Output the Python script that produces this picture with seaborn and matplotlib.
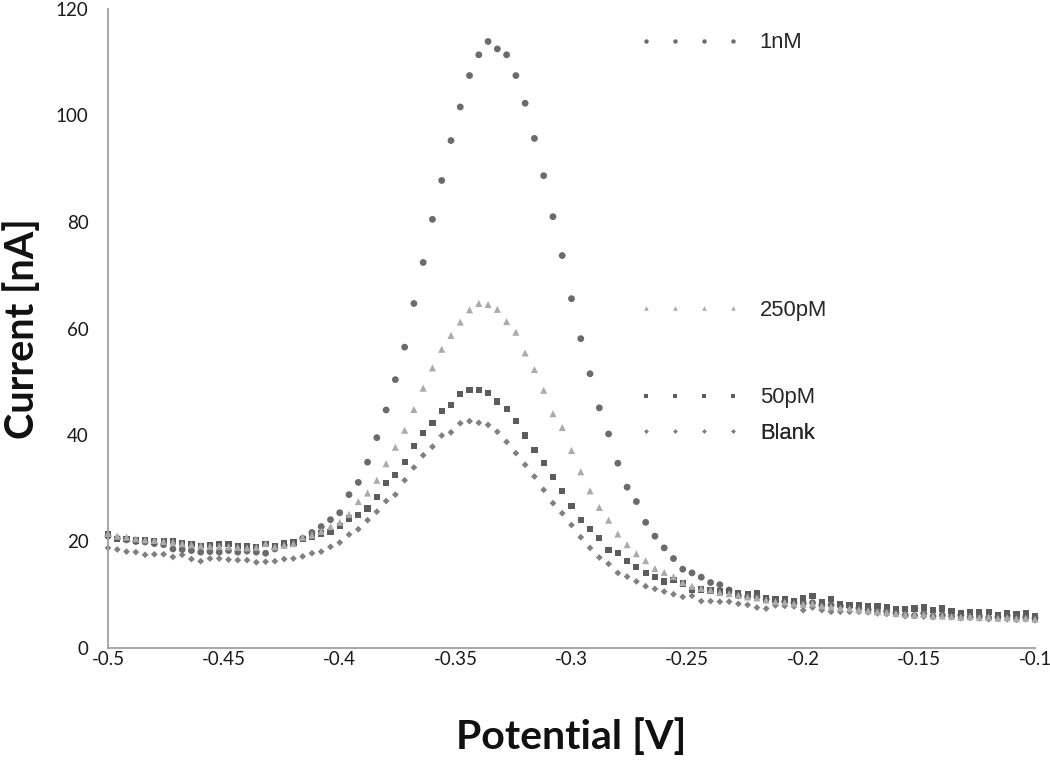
import matplotlib
matplotlib.use("Agg")
import matplotlib.pyplot as plt
from matplotlib.lines import Line2D
import seaborn as sns
import pandas as pd

# ----------------------------------------------------------------------
# Data (potential in V, current in nA)
# ----------------------------------------------------------------------
POTENTIAL = [
    -0.500, -0.496, -0.492, -0.488, -0.484, -0.480, -0.476, -0.472, -0.468, -0.464,
    -0.460, -0.456, -0.452, -0.448, -0.444, -0.440, -0.436, -0.432, -0.428, -0.424,
    -0.420, -0.416, -0.412, -0.408, -0.404, -0.400, -0.396, -0.392, -0.388, -0.384,
    -0.380, -0.376, -0.372, -0.368, -0.364, -0.360, -0.356, -0.352, -0.348, -0.344,
    -0.340, -0.336, -0.332, -0.328, -0.324, -0.320, -0.316, -0.312, -0.308, -0.304,
    -0.300, -0.296, -0.292, -0.288, -0.284, -0.280, -0.276, -0.272, -0.268, -0.264,
    -0.260, -0.256, -0.252, -0.248, -0.244, -0.240, -0.236, -0.232, -0.228, -0.224,
    -0.220, -0.216, -0.212, -0.208, -0.204, -0.200, -0.196, -0.192, -0.188, -0.184,
    -0.180, -0.176, -0.172, -0.168, -0.164, -0.160, -0.156, -0.152, -0.148, -0.144,
    -0.140, -0.136, -0.132, -0.128, -0.124, -0.120, -0.116, -0.112, -0.108, -0.104,
    -0.100,
]

CURRENT_1NM = [
    21.0, 20.6, 20.3, 20.0, 19.9, 19.6, 19.4, 18.6, 18.5, 18.3,
    18.0, 18.1, 18.0, 18.3, 18.0, 18.2, 18.0, 17.8, 18.6, 19.3,
    19.8, 20.6, 21.7, 22.8, 24.1, 25.4, 28.8, 31.1, 34.9, 39.5,
    44.7, 50.4, 56.5, 64.7, 72.4, 80.5, 87.8, 95.3, 101.6, 107.5,
    111.4, 113.9, 112.5, 111.4, 107.5, 102.3, 95.7, 88.7, 81.0, 73.7,
    65.6, 58.1, 51.5, 45.1, 40.2, 34.7, 30.2, 27.5, 23.6, 21.0,
    18.8, 16.8, 14.8, 14.1, 13.3, 12.3, 11.9, 10.9, 9.8, 9.6,
    9.6, 9.2, 8.8, 8.7, 8.5, 8.4, 8.5, 8.0, 8.1, 7.9,
    7.8, 7.5, 7.2, 7.0, 6.9, 6.6, 6.2, 6.1, 6.5, 6.0,
    6.2, 6.0, 6.2, 5.8, 6.0, 5.7, 5.9, 6.1, 5.6, 5.8,
    5.6,
]

CURRENT_250PM = [
    21.5, 21.0, 20.8, 20.5, 20.3, 20.2, 20.0, 19.9, 19.6, 19.4,
    19.2, 19.1, 19.1, 19.0, 18.9, 18.8, 18.9, 19.6, 19.0, 19.3,
    19.6, 20.8, 21.2, 21.9, 22.8, 23.6, 25.1, 27.5, 29.1, 31.5,
    34.6, 37.7, 40.9, 44.8, 48.8, 52.6, 56.1, 58.7, 61.2, 63.5,
    64.7, 64.5, 63.6, 61.3, 59.3, 55.4, 52.3, 48.4, 44.0, 41.4,
    37.1, 33.1, 29.5, 26.4, 24.0, 21.4, 19.4, 17.7, 16.4, 14.9,
    14.2, 13.4, 12.3, 11.6, 11.2, 10.9, 10.4, 10.2, 9.9, 9.6,
    9.4, 9.0, 8.7, 8.6, 8.3, 8.2, 8.3, 7.9, 7.7, 7.5,
    7.4, 7.2, 7.0, 6.8, 6.7, 6.5, 6.3, 6.2, 6.3, 6.0,
    6.0, 5.9, 5.8, 5.9, 5.7, 5.8, 5.6, 5.7, 5.5, 5.6,
    5.4,
]

CURRENT_50PM = [
    21.3, 20.4, 20.4, 20.2, 20.2, 20.0, 20.0, 20.0, 19.7, 19.5,
    19.2, 19.4, 19.6, 19.5, 19.2, 19.2, 19.0, 19.5, 19.2, 19.7,
    19.8, 20.4, 20.9, 21.5, 21.8, 22.9, 24.3, 25.0, 26.2, 28.4,
    31.0, 32.5, 35.0, 37.9, 40.4, 42.2, 44.5, 45.6, 47.7, 48.4,
    48.4, 47.9, 46.3, 44.9, 42.6, 39.9, 37.2, 34.7, 32.1, 29.5,
    26.6, 24.1, 22.3, 20.7, 18.4, 17.8, 16.3, 15.2, 14.1, 13.4,
    12.5, 12.7, 12.1, 10.9, 11.0, 10.8, 10.6, 10.7, 10.3, 10.1,
    10.4, 9.3, 9.1, 9.1, 8.9, 9.3, 9.8, 8.7, 9.2, 8.3,
    8.1, 8.1, 7.8, 7.9, 7.7, 7.3, 7.3, 7.4, 7.6, 7.1,
    7.4, 6.9, 6.6, 6.8, 6.8, 6.8, 6.2, 6.5, 6.4, 6.5,
    5.9,
]

CURRENT_BLANK = [
    18.8, 18.5, 18.1, 18.0, 17.5, 17.6, 17.6, 17.1, 17.5, 16.7,
    16.3, 16.8, 16.8, 16.6, 16.5, 16.5, 16.1, 16.2, 16.3, 16.7,
    16.8, 17.2, 17.8, 18.1, 19.0, 19.8, 21.3, 22.3, 24.0, 25.6,
    27.6, 28.8, 31.5, 33.9, 36.2, 37.8, 39.9, 40.5, 42.2, 42.6,
    42.3, 41.9, 40.6, 38.7, 36.6, 34.4, 32.2, 29.7, 27.2, 25.3,
    23.1, 20.8, 18.8, 17.0, 15.8, 14.1, 13.4, 12.5, 11.6, 11.1,
    10.6, 10.1, 9.6, 9.8, 8.8, 8.8, 8.7, 8.7, 8.3, 8.1,
    7.6, 7.4, 8.0, 7.9, 7.8, 7.1, 7.6, 7.1, 6.8, 6.8,
    6.8, 6.8, 6.7, 6.5, 6.4, 6.3, 6.0, 6.1, 5.9, 5.8,
    6.0, 5.8, 5.6, 5.7, 5.6, 5.4, 5.5, 5.4, 5.3, 5.4,
    5.2,
]

SERIES = ['Blank', '1nM', '50pM', '250pM']          # drawing order (last on top)
VALUES = {'1nM': CURRENT_1NM, '250pM': CURRENT_250PM,
          '50pM': CURRENT_50PM, 'Blank': CURRENT_BLANK}

X_TICKS = [-0.5, -0.45, -0.4, -0.35, -0.3, -0.25, -0.2, -0.15, -0.1]
X_TICK_LABELS = ['-0.5', '-0.45', '-0.4', '-0.35', '-0.3', '-0.25', '-0.2', '-0.15', '-0.1']
Y_TICKS = [0, 20, 40, 60, 80, 100, 120]

# ----------------------------------------------------------------------
# Style
# ----------------------------------------------------------------------
STYLE = {
    '1nM':   dict(marker='o', color='#6b6b6b', s=24),
    '250pM': dict(marker='^', color='#ababab', s=26),
    '50pM':  dict(marker='s', color='#5c5c5c', s=20),
    'Blank': dict(marker='D', color='#808080', s=12),
}
# legend row position in pixels (y from top)
LEGEND_Y = {'1nM': 43, '250pM': 310, '50pM': 398, 'Blank': 433}

W, H = 1050, 760

sns.set_theme(style='white')
plt.rcParams['font.family'] = ['Lato', 'DejaVu Sans']

fig = plt.figure(figsize=(W / 100, H / 100), dpi=100)
ax = fig.add_axes([108 / W, 1 - 648 / H, (1035 - 108) / W, (648 - 9) / H])

df = pd.DataFrame({'potential': POTENTIAL, **VALUES})

for name in SERIES:
    st = STYLE[name]
    sns.scatterplot(data=df, x='potential', y=name, ax=ax, marker=st['marker'],
                    color=st['color'], s=st['s'], edgecolor='none', linewidth=0,
                    legend=False)
for coll in ax.collections:
    coll.set_clip_on(False)

ax.set_xlim(-0.5, -0.1)
ax.set_ylim(0, 120)
ax.set_xticks(X_TICKS)
ax.set_xticklabels(X_TICK_LABELS)
ax.set_yticks(Y_TICKS)
ax.tick_params(axis='both', length=0, labelsize=13.5, colors='#1a1a1a')
ax.tick_params(axis='y', pad=14)
ax.tick_params(axis='x', pad=2)
ax.grid(False)

for side in ['top', 'right']:
    ax.spines[side].set_visible(False)
for side in ['left', 'bottom']:
    ax.spines[side].set_color('#a0a0a0')
    ax.spines[side].set_linewidth(1.3)

ax.set_xlabel('Potential [V]', fontsize=29.5, fontweight='bold', color='#111111', labelpad=36)
ax.set_ylabel('Current [nA]', fontsize=28.5, fontweight='bold', color='#111111', labelpad=11)

# one small legend per series, placed next to its curve like the original
leg_fs = 15.8
for name in ['1nM', '250pM', '50pM', 'Blank']:
    st = STYLE[name]
    handle = Line2D([], [], linestyle='none', marker=st['marker'], color=st['color'],
                    markersize=(st['s'] ** 0.5) * 0.65, markeredgewidth=0)
    leg = ax.legend([handle], [name], loc='center left', numpoints=4,
                    handlelength=4.55, handletextpad=0.93, frameon=False,
                    borderpad=0, borderaxespad=0,
                    prop={'family': ['Liberation Sans', 'DejaVu Sans'], 'size': leg_fs},
                    bbox_to_anchor=(639.5 / W, 1 - LEGEND_Y[name] / H),
                    bbox_transform=fig.transFigure)
    ax.add_artist(leg)

fig.savefig('out.png', dpi=100)
